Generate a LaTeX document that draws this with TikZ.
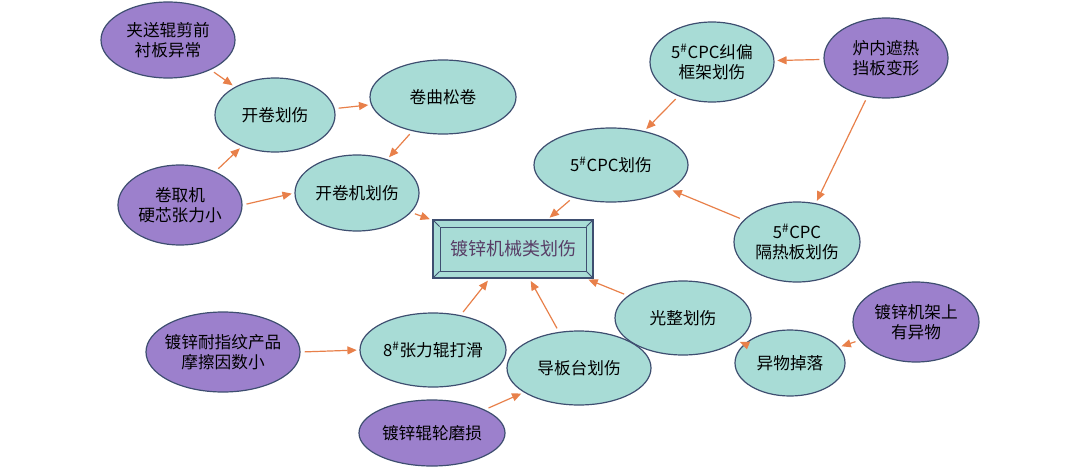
\documentclass[tikz,border=0pt]{standalone}
\usepackage{fontspec}
\setmainfont{Liberation Serif}
\newfontfamily\cjk{Noto Sans CJK SC}
\usetikzlibrary{shapes.geometric,arrows.meta}
\definecolor{tealf}{HTML}{A8DCD6}
\definecolor{purf}{HTML}{9C80CC}
\definecolor{edg}{HTML}{3E4E70}
\definecolor{arr}{HTML}{E8804A}
\begin{document}
\begin{tikzpicture}[x=0.75pt,y=-0.75pt,
  el/.style={ellipse,draw=edg,line width=0.9pt,inner sep=0pt,align=center,font=\cjk\fontsize{12.5}{15}\selectfont},
  t/.style={el,fill=tealf},
  p/.style={el,fill=purf},
  a/.style={draw=arr,line width=0.9pt,-{Triangle[length=7pt,width=6pt]},shorten <=3pt,shorten >=2pt}]
\useasboundingbox (0,0) rectangle (1080,467);
\newcommand\E[6]{\node[#1,minimum width=#4*1.5pt,minimum height=#5*1.5pt] (#6) at (#2,#3) {};}
\E{p}{168}{40}{67}{38}{jia}
\E{t}{275}{115}{60}{37}{kj}
\E{t}{443}{97}{73}{37}{jq}
\E{p}{180}{205}{62}{40}{jqj}
\E{t}{357}{193}{62}{38}{kjj}
\E{t}{712}{62}{62}{40}{jp}
\E{p}{886}{58}{62}{40}{ln}
\E{t}{611}{165}{77}{37}{cpc}
\E{t}{797}{242}{63}{40}{grb}
\E{p}{916}{322}{63}{40}{jj}
\E{t}{683}{318}{68}{37}{gz}
\E{t}{790}{363}{55}{33}{yw}
\E{t}{579}{368}{72}{37}{dbt}
\E{t}{433}{350}{73}{37}{zl}
\E{p}{223}{352}{77}{40}{nzw}
\E{p}{432}{433}{73}{33}{gl}
\node[font=\cjk\fontsize{12.5}{15}\selectfont,align=center] at (jia) {夹送辊剪前\\衬板异常};
\node[font=\cjk\fontsize{12.5}{15}\selectfont] at (kj) {开卷划伤};
\node[font=\cjk\fontsize{12.5}{15}\selectfont] at (jq) {卷曲松卷};
\node[font=\cjk\fontsize{12.5}{15}\selectfont,align=center] at (jqj) {卷取机\\硬芯张力小};
\node[font=\cjk\fontsize{12.5}{15}\selectfont] at (kjj) {开卷机划伤};
\node[font=\cjk\fontsize{12.5}{15}\selectfont,align=center] at (jp) {5\textsuperscript{\#}CPC纠偏\\框架划伤};
\node[font=\cjk\fontsize{12.5}{15}\selectfont,align=center] at (ln) {炉内遮热\\挡板变形};
\node[font=\cjk\fontsize{12.5}{15}\selectfont] at (cpc) {5\textsuperscript{\#}CPC划伤};
\node[font=\cjk\fontsize{12.5}{15}\selectfont,align=center] at (grb) {5\textsuperscript{\#}CPC\\隔热板划伤};
\node[font=\cjk\fontsize{12.5}{15}\selectfont,align=center] at (jj) {镀锌机架上\\有异物};
\node[font=\cjk\fontsize{12.5}{15}\selectfont] at (gz) {光整划伤};
\node[font=\cjk\fontsize{12.5}{15}\selectfont] at (yw) {异物掉落};
\node[font=\cjk\fontsize{12.5}{15}\selectfont] at (dbt) {导板台划伤};
\node[font=\cjk\fontsize{12.5}{15}\selectfont] at (zl) {8\textsuperscript{\#}张力辊打滑};
\node[font=\cjk\fontsize{12.5}{15}\selectfont,align=center] at (nzw) {镀锌耐指纹产品\\摩擦因数小};
\node[font=\cjk\fontsize{12.5}{15}\selectfont] at (gl) {镀锌辊轮磨损};
% center bevel box
\node[draw=edg,fill=tealf,line width=0.9pt,minimum width=120pt,minimum height=43.5pt,inner sep=0pt] (c) at (513,249) {};
\node[draw=edg,line width=0.6pt,minimum width=109.5pt,minimum height=33pt,inner sep=0pt] (ci) at (513,249) {};
\draw[edg,line width=0.6pt] (c.north west)--(ci.north west) (c.north east)--(ci.north east) (c.south west)--(ci.south west) (c.south east)--(ci.south east);
\node[text=edg!80!purple,font=\cjk\fontsize{13.5}{16}\selectfont] at (c) {镀锌机械类划伤};
% arrows
\draw[a] (jia)--(kj);
\draw[a] (jqj)--(kj);
\draw[a] (kj)--(jq);
\draw[a] (jq)--(kjj);
\draw[a] (jqj.east)--(kjj.west);
\draw[a] (kjj)--(c);
\draw[a] (ln)--(jp);
\draw[a] (jp)--(cpc);
\draw[a] (ln)--(grb);
\draw[a] (grb)--(cpc);
\draw[a] (cpc)--(c);
\draw[a] (jj)--(yw);
\draw[a] (yw)--(gz);
\draw[a] (gz)--(c);
\draw[a] (dbt)--(c);
\draw[a] (zl)--(c);
\draw[a] (nzw.east)--(zl.west);
\draw[a] (gl)--(dbt);
\end{tikzpicture}
\end{document}
